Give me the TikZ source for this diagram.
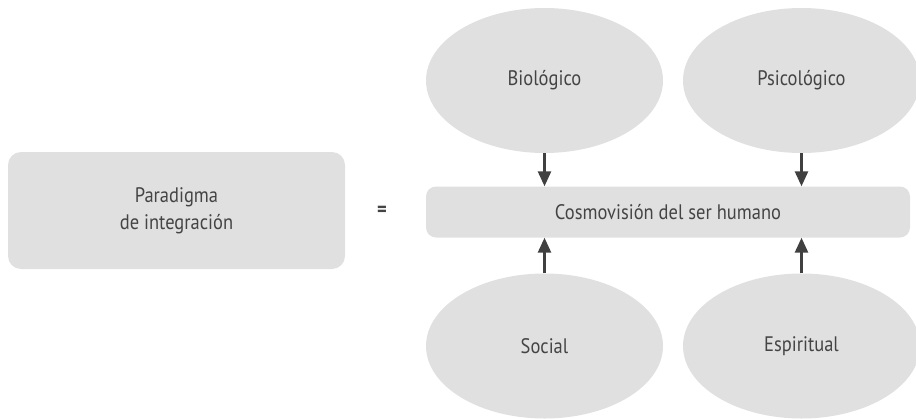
\documentclass[tikz,border=0pt]{standalone}
\usepackage{fontspec}
\setmainfont{PT Sans}[FakeStretch=0.88]
\usetikzlibrary{arrows.meta,shapes.geometric}
\definecolor{boxfill}{HTML}{E0E0E0}
\definecolor{txt}{HTML}{444444}
\definecolor{arr}{HTML}{404040}
\tikzset{
  lbl/.style={text=txt,font=\fontsize{21}{27}\selectfont},
  box/.style={lbl,fill=boxfill,draw=none,rounded corners=13pt,align=center,inner sep=0pt},
  oval/.style={lbl,ellipse,fill=boxfill,draw=none,minimum width=237pt,minimum height=145pt,inner sep=0pt},
  conn/.style={draw=arr,line width=2.6pt,-{Triangle[width=13pt,length=15pt]}}
}
\begin{document}
\begin{tikzpicture}[x=1pt,y=-1pt]
\useasboundingbox (0,0) rectangle (916,418);
\begin{scope}
\clip (0,0) rectangle (916,418);
\node[box,minimum width=337pt,minimum height=117pt] (par) at (176.5,210.5) {Paradigma\\de integración};
\node[lbl,font=\fontsize{21}{27}\selectfont\bfseries] (eq) at (382,211) {=};
\node[box,rounded corners=10pt,minimum width=484pt,minimum height=51pt] (cos) at (668,212) {Cosmovisión del ser humano};
\node[oval] (bio) at (544.5,80.5) {Biológico};
\node[oval] (psi) at (801.5,80.5) {Psicológico};
\node[oval] (soc) at (544.5,346) {Social};
\node[oval] (esp) at (801.5,346) {Espiritual};
\end{scope}
\draw[conn] (bio.south) -- (bio.south |- cos.north);
\draw[conn] (psi.south) -- (psi.south |- cos.north);
\draw[conn] (soc.north) -- (soc.north |- cos.south);
\draw[conn] (esp.north) -- (esp.north |- cos.south);
\end{tikzpicture}
\end{document}
